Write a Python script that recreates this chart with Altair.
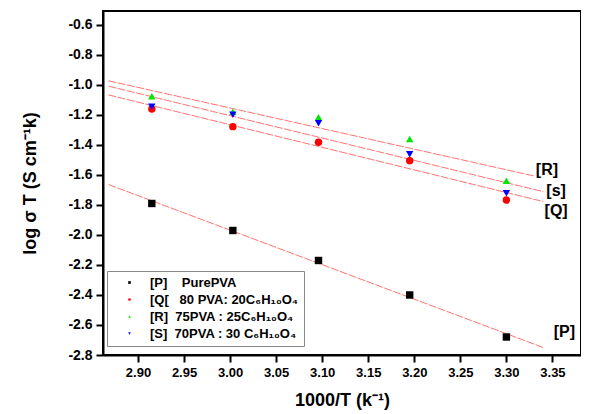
import altair as alt
import pandas as pd

# ---- data ----
inv_T = [2.915, 3.003, 3.096, 3.195, 3.300]
series_keys = ["P", "Q", "R", "S"]
series_labels = [
    "[P]\u00a0\u00a0\u00a0\u00a0PurePVA",
    "[Q[\u00a0\u00a0\u00a080 PVA: 20C\u2086H\u2081\u2080O\u2084",
    "[R]\u00a0\u00a075PVA : 25C\u2086H\u2081\u2080O\u2084",
    "[S]\u00a0\u00a070PVA : 30 C\u2086H\u2081\u2080O\u2084",
]
logsT_P = [-1.79, -1.97, -2.17, -2.40, -2.68]
logsT_Q = [-1.16, -1.278, -1.382, -1.505, -1.767]
logsT_R = [-1.075, -1.178, -1.215, -1.36, -1.638]
logsT_S = [-1.145, -1.198, -1.255, -1.462, -1.722]

fit_extent_start = [2.868, 2.868, 2.868, 2.868]
fit_extent_end = [3.34, 3.34, 3.33, 3.34]

tag_text = ["[P]", "[Q]", "[R]", "[s]"]
tag_x = [3.363, 3.354, 3.344, 3.354]
tag_y = [-2.65, -1.838, -1.567, -1.705]

x_ticks = [2.90, 2.95, 3.00, 3.05, 3.10, 3.15, 3.20, 3.25, 3.30, 3.35]
y_ticks = [-2.8, -2.6, -2.4, -2.2, -2.0, -1.8, -1.6, -1.4, -1.2, -1.0, -0.8, -0.6]

colors = ["#000000", "#ff0000", "#00e600", "#0000ff"]
shapes = ["square", "circle", "triangle-up", "triangle-down"]

# ---- build table ----
values = {"P": logsT_P, "Q": logsT_Q, "R": logsT_R, "S": logsT_S}
rows = []
for k, lab in zip(series_keys, series_labels):
    for xv, yv in zip(inv_T, values[k]):
        rows.append({"x": xv, "y": yv, "key": k, "label": lab})
df = pd.DataFrame(rows)
tags = pd.DataFrame({"x": tag_x, "y": tag_y, "t": tag_text})

FONT = "Liberation Sans"
xs = alt.Scale(domain=[2.862, 3.381], nice=False, zero=False)
ys = alt.Scale(domain=[-2.8, -0.507], nice=False, zero=False)

xaxis = alt.Axis(values=x_ticks, format=".2f", title="1000/T (k\u207b\u00b9)",
                 labelFontSize=13, labelFontWeight="bold", labelFont=FONT,
                 titleFontSize=18, titleFontWeight="bold", titleFont=FONT,
                 titlePadding=12, grid=False, tickColor="black", domainColor="black",
                 domainWidth=2, tickWidth=2, tickSize=7, labelColor="black", titleColor="black",
                 labelPadding=4, labelOverlap=False)
yaxis = alt.Axis(values=y_ticks, title="log \u03c3 T (S cm\u207b\u00b9k)",
                 labelExpr="replace(format(datum.value, '.1f'), '\u2212', '-')",
                 labelFontSize=14, labelFontWeight="bold", labelFont=FONT,
                 titleFontSize=18, titleFontWeight="bold", titleFont=FONT,
                 titleX=-73, titleY=172, titleBaseline="middle",
                 grid=False, tickColor="black", domainColor="black",
                 domainWidth=2, tickWidth=2, tickSize=7, labelColor="black", titleColor="black",
                 labelPadding=4, labelOverlap=False, tickCount=12)

X = alt.X("x:Q", scale=xs, axis=xaxis)
Y = alt.Y("y:Q", scale=ys, axis=yaxis)

base = alt.Chart(df)

fit_layers = []
for k, e0, e1 in zip(series_keys, fit_extent_start, fit_extent_end):
    fit_layers.append(
        base.transform_filter(alt.datum.key == k)
        .transform_regression("x", "y", extent=[e0, e1])
        .mark_line(color="#ff5a5a", strokeWidth=1, opacity=0.85, strokeDash=[8, 1.5])
        .encode(x=X, y=Y)
    )

points = base.mark_point(filled=True, opacity=1, size=55).encode(
    x=X, y=Y,
    color=alt.Color("label:N", scale=alt.Scale(domain=series_labels, range=colors),
                    legend=alt.Legend(title=None, orient="none", legendX=4, legendY=260,
                                      symbolSize=7, labelFont=FONT, labelFontSize=13,
                                      labelFontWeight="bold", labelColor="black",
                                      strokeColor="#888888", padding=5, rowPadding=3,
                                      symbolOffset=11, labelOffset=14, labelLimit=300)),
    shape=alt.Shape("label:N", scale=alt.Scale(domain=series_labels, range=shapes)),
)

tag_layer = alt.Chart(tags).mark_text(font=FONT, fontSize=16, fontWeight="bold",
                                      color="black", align="center", baseline="middle").encode(
    x=X, y=Y, text="t:N")

chart = alt.layer(*fit_layers, points, tag_layer).properties(
    width=478, height=344,
    autosize=alt.AutoSizeParams(type="none"),
    padding={"left": 95, "top": 3, "right": 0, "bottom": 59},
).configure_view(stroke="black", strokeWidth=2)

chart.save("out.html", embed_options={"renderer": "svg", "actions": False})
